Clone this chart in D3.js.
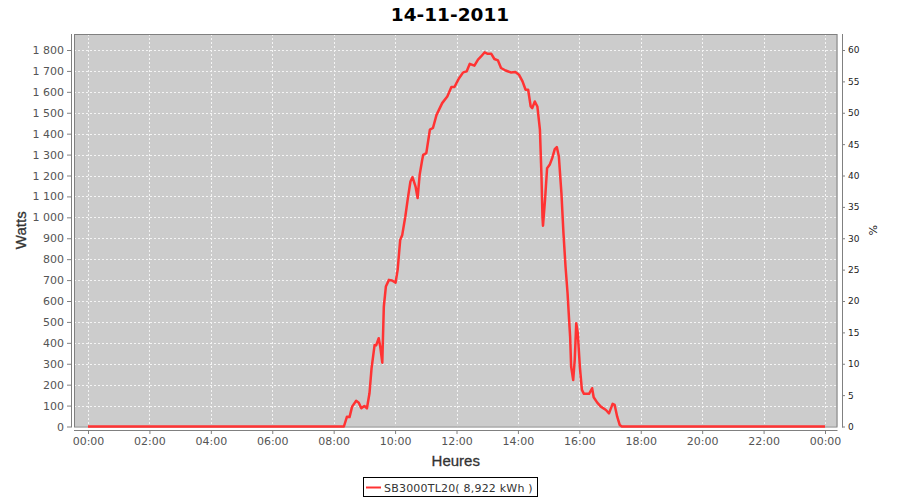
<!DOCTYPE html>
<html>
<head>
<meta charset="utf-8">
<script src="https://cdn.jsdelivr.net/npm/d3@7"></script>
<style>
  html, body { margin: 0; padding: 0; background: #fff; }
  svg { display: block; }
</style>
</head>
<body>
<svg id="chart" width="900" height="500"></svg>
<script>
// ---- data ----
const title = "14-11-2011";
const seriesName = "SB3000TL20( 8,922 kWh )";
const times = ["00:00","08:20","08:26","08:31","08:36","08:44","08:49","08:54","09:00","09:05",
  "09:10","09:14","09:20","09:23","09:28","09:31","09:35","09:38","09:42","09:48",
  "09:54","10:01","10:05","10:10","10:14","10:20","10:25","10:30","10:34","10:40",
  "10:44","10:48","10:53","10:55","11:01","11:08","11:14","11:21","11:32","11:42",
  "11:50","11:56","12:04","12:13","12:20","12:26","12:35","12:42","12:48","12:55",
  "13:01","13:08","13:14","13:21","13:27","13:36","13:46","13:55","14:02","14:09",
  "14:15","14:20","14:25","14:28","14:33","14:38","14:43","14:46","14:48","14:49",
  "14:53","14:57","15:02","15:07","15:12","15:16","15:20","15:25","15:29","15:33",
  "15:37","15:40","15:42","15:44","15:48","15:51","15:54","15:57","16:01","16:05",
  "16:09","16:19","16:25","16:28","16:35","16:42","16:52","16:58","17:05","17:09",
  "17:14","17:19","17:23","24:00"];
const watts = [0,0,47,45,95,123,114,87,98,87,
  159,278,390,388,422,382,305,573,669,701,
  698,688,749,892,916,1004,1092,1171,1192,1147,
  1092,1203,1275,1299,1307,1419,1427,1490,1546,1578,
  1623,1623,1661,1693,1698,1734,1725,1754,1769,1789,
  1782,1782,1757,1750,1714,1702,1693,1695,1682,1650,
  1610,1610,1530,1522,1554,1530,1419,1200,1000,960,
  1084,1235,1251,1283,1326,1336,1291,1116,924,765,
  637,510,430,286,222,318,494,446,286,175,
  156,156,183,140,114,95,79,63,108,103,
  47,7,0,0];
const wattTicks = d3.range(0, 1801, 100);
const pctTicks = d3.range(0, 61, 5);
const ratedPower = 3000; // % axis: percent of 3000 W

// ---- layout ----
const svg = d3.select("#chart");
const plot = { left: 74, right: 837.5, top: 34, bottom: 426.5 };

const parseT = s => { const [h, m] = s.split(":").map(Number); return new Date(2011, 10, 14, h, m); };
const data = times.map((t, i) => ({ t: parseT(t), w: watts[i] }));

const x = d3.scaleTime()
  .domain([new Date(2011, 10, 14, 0, 0), new Date(2011, 10, 15, 0, 0)])
  .range([88, 825]);
const y = d3.scaleLinear().domain([0, 1800]).range([plot.bottom, 50]);
const yPct = d3.scaleLinear().domain([0, 1800 / ratedPower * 100]).range([plot.bottom, 50]);

const fmtLocale = d3.formatLocale({ decimal: ",", thousands: " ", grouping: [3], currency: ["", ""] });
const fmtW = fmtLocale.format(",");
const fmtT = d3.timeFormat("%H:%M");

// title
svg.append("text")
  .attr("x", 450).attr("y", 21)
  .attr("text-anchor", "middle")
  .attr("font-family", "DejaVu Sans").attr("font-weight", "bold").attr("font-size", 18.5)
  .attr("fill", "#000")
  .text(title);

// plot background
svg.append("rect")
  .attr("x", plot.left).attr("y", plot.top)
  .attr("width", plot.right - plot.left).attr("height", plot.bottom - plot.top)
  .attr("fill", "#cccccc");

// grid
const xTickVals = d3.timeHour.every(2).range(new Date(2011, 10, 14, 0, 0), new Date(2011, 10, 15, 0, 1));
const grid = svg.append("g").attr("stroke", "#ffffff").attr("stroke-width", 1)
  .attr("stroke-dasharray", "2,2").attr("opacity", 0.8);
grid.selectAll("line.v").data(xTickVals).join("line")
  .attr("x1", d => Math.round(x(d)) + 0.5).attr("x2", d => Math.round(x(d)) + 0.5)
  .attr("y1", plot.top).attr("y2", plot.bottom);
grid.selectAll("line.h").data(wattTicks).join("line")
  .attr("x1", plot.left).attr("x2", plot.right)
  .attr("y1", d => Math.round(y(d)) + 0.5).attr("y2", d => Math.round(y(d)) + 0.5);

// plot outline
svg.append("rect")
  .attr("x", plot.left + 0.5).attr("y", plot.top + 0.5)
  .attr("width", plot.right - plot.left - 1).attr("height", plot.bottom - plot.top)
  .attr("fill", "none").attr("stroke", "#808080").attr("stroke-width", 1);

// line
const line = d3.line().x(d => x(d.t)).y(d => y(d.w));
svg.append("path")
  .datum(data)
  .attr("d", line)
  .attr("fill", "none")
  .attr("stroke", "#ff3333")
  .attr("stroke-width", 2.5)
  .attr("stroke-linejoin", "round");

// left axis
const gL = svg.append("g").attr("transform", "translate(71,0)")
  .call(d3.axisLeft(y).tickValues(wattTicks).tickFormat(fmtW).tickSize(4).tickPadding(3));
gL.select(".domain").remove();
gL.selectAll(".tick line").attr("stroke", "#808080");
gL.selectAll(".tick text").attr("font-family", "DejaVu Sans").attr("font-size", 11).attr("fill", "#555");
svg.append("line").attr("x1", 71.5).attr("x2", 71.5).attr("y1", plot.top).attr("y2", plot.bottom + 1)
  .attr("stroke", "#808080");

// bottom axis
const gB = svg.append("g").attr("transform", "translate(0,430)")
  .call(d3.axisBottom(x).tickValues(xTickVals).tickFormat(fmtT).tickSize(4).tickPadding(3));
gB.select(".domain").remove();
gB.selectAll(".tick line").attr("stroke", "#808080");
gB.selectAll(".tick text").attr("font-family", "DejaVu Sans").attr("font-size", 11).attr("fill", "#555");
svg.append("line").attr("x1", plot.left).attr("x2", plot.right).attr("y1", 430.5).attr("y2", 430.5)
  .attr("stroke", "#808080");

// right axis
const gR = svg.append("g").attr("transform", "translate(842,0)")
  .call(d3.axisRight(yPct).tickValues(pctTicks).tickSize(3).tickPadding(3));
gR.select(".domain").remove();
gR.selectAll(".tick line").attr("stroke", "#808080");
gR.selectAll(".tick text").attr("font-family", "DejaVu Sans").attr("font-size", 9).attr("fill", "#222");
svg.append("line").attr("x1", 842.5).attr("x2", 842.5).attr("y1", plot.top).attr("y2", plot.bottom + 1)
  .attr("stroke", "#808080");

// axis titles
svg.append("text")
  .attr("transform", `translate(26,${(plot.top + plot.bottom) / 2}) rotate(-90)`)
  .attr("text-anchor", "middle")
  .attr("font-family", "Liberation Sans").attr("font-size", 15)
  .attr("fill", "#333").attr("stroke", "#333").attr("stroke-width", 0.3)
  .text("Watts");
svg.append("text")
  .attr("x", (plot.left + plot.right) / 2).attr("y", 466)
  .attr("text-anchor", "middle")
  .attr("font-family", "Liberation Sans").attr("font-size", 15)
  .attr("fill", "#333").attr("stroke", "#333").attr("stroke-width", 0.3)
  .text("Heures");
svg.append("text")
  .attr("transform", `translate(869,${(plot.top + plot.bottom) / 2}) rotate(90)`)
  .attr("text-anchor", "middle")
  .attr("font-family", "DejaVu Sans").attr("font-size", 11)
  .attr("fill", "#222")
  .text("%");

// legend
const lg = svg.append("g");
lg.append("rect").attr("x", 363.5).attr("y", 477.5).attr("width", 174).attr("height", 19)
  .attr("fill", "#fff").attr("stroke", "#000").attr("stroke-width", 1);
lg.append("line").attr("x1", 366).attr("x2", 381).attr("y1", 487.5).attr("y2", 487.5)
  .attr("stroke", "#ff3333").attr("stroke-width", 2);
lg.append("text").attr("x", 384).attr("y", 491.5)
  .attr("font-family", "DejaVu Sans").attr("font-size", 11).attr("fill", "#333")
  .attr("letter-spacing", 0.2)
  .text(seriesName);
</script>
</body>
</html>
